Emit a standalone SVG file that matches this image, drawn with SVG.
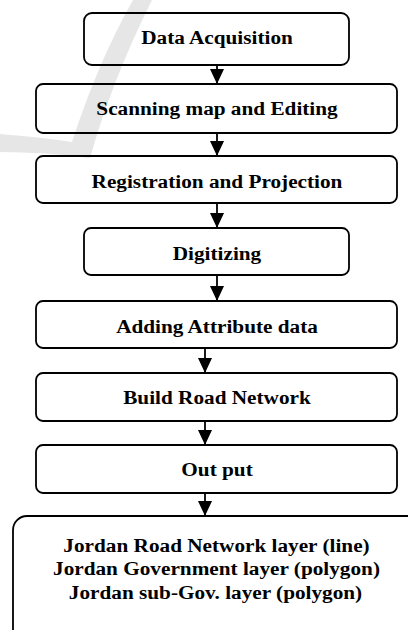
<svg xmlns="http://www.w3.org/2000/svg" width="408" height="630" viewBox="0 0 408 630">
  <style>
    .box { fill: none; stroke: #000; stroke-width: 1.8; }
    .lbl { font-family: "Liberation Serif", "Times New Roman", serif; font-weight: bold; font-size: 19.5px; fill: #000; text-anchor: middle; }
    .con { stroke: #000; stroke-width: 1.8; fill: none; marker-end: url(#head); }
    .mark { fill: #e6e6e6; }
  </style>
  <defs>
    <marker id="head" viewBox="0 0 15 14" refX="15" refY="7" markerWidth="15" markerHeight="14" markerUnits="userSpaceOnUse" orient="auto">
      <path d="M0,0 L15,7 L0,14 Z" fill="#000"/>
    </marker>
  </defs>
  <rect width="408" height="630" fill="#fff"/>
  <path class="mark" d="M133,0 L152,0 Q112,80 90,158 Q45,152 0,152 L0,134 Q40,137 72,142 Q98,62 133,0 Z"/>

  <g id="n1"><rect class="box" x="84" y="13" width="265" height="52" rx="8"/><text class="lbl" transform="translate(217,43.5) scale(1.09,1)">Data Acquisition</text></g>
  <g id="n2"><rect class="box" x="36" y="84" width="361" height="49" rx="7"/><text class="lbl" transform="translate(217,114.5) scale(1.09,1)">Scanning map and Editing</text></g>
  <g id="n3"><rect class="box" x="36" y="156" width="361" height="47" rx="7"/><text class="lbl" transform="translate(217,188) scale(1.09,1)">Registration and Projection</text></g>
  <g id="n4"><rect class="box" x="84" y="228" width="265" height="47" rx="7"/><text class="lbl" transform="translate(217,259.5) scale(1.09,1)">Digitizing</text></g>
  <g id="n5"><rect class="box" x="36" y="301" width="361" height="47" rx="7"/><text class="lbl" transform="translate(217,333) scale(1.09,1)">Adding Attribute data</text></g>
  <g id="n6"><rect class="box" x="36" y="373" width="361" height="48" rx="7"/><text class="lbl" transform="translate(217,403.5) scale(1.09,1)">Build Road Network</text></g>
  <g id="n7"><rect class="box" x="36" y="445" width="361" height="48" rx="7"/><text class="lbl" transform="translate(217,475.5) scale(1.09,1)">Out put</text></g>
  <g id="n8"><rect class="box" x="13" y="516" width="420" height="140" rx="14"/>
    <text class="lbl" transform="translate(216.5,551.5) scale(1.09,1)">Jordan Road Network layer (line)</text>
    <text class="lbl" transform="translate(216.5,575) scale(1.09,1)">Jordan Government layer (polygon)</text>
    <text class="lbl" transform="translate(215.5,598.5) scale(1.09,1)">Jordan sub-Gov. layer (polygon)</text>
  </g>

  <g id="connectors">
    <line class="con" x1="217" y1="65" x2="217" y2="84"/>
    <line class="con" x1="217" y1="133" x2="217" y2="156"/>
    <line class="con" x1="217" y1="203" x2="217" y2="228"/>
    <line class="con" x1="217" y1="275" x2="217" y2="301"/>
    <line class="con" x1="205" y1="348" x2="205" y2="373"/>
    <line class="con" x1="205" y1="421" x2="205" y2="445"/>
    <line class="con" x1="205" y1="493" x2="205" y2="516"/>
  </g>
</svg>
